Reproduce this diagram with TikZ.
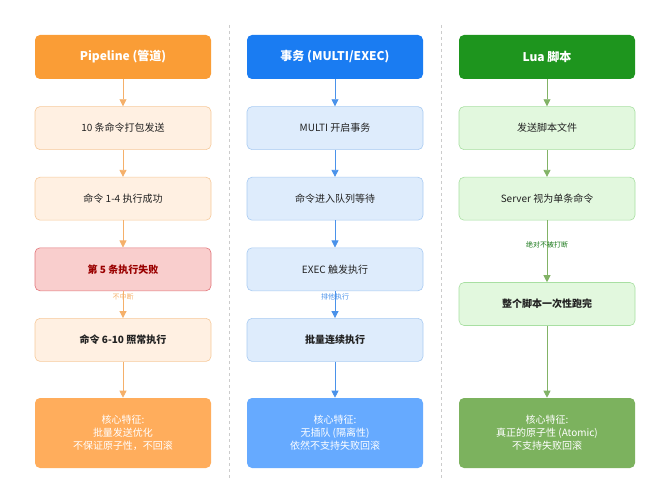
\documentclass[tikz,border=0pt]{standalone}
\usepackage{fontspec}
\setmainfont{Noto Sans CJK SC}
\usepackage{tikz}
\usetikzlibrary{arrows.meta, positioning, calc}

\definecolor{pipeH}{HTML}{FA9D36}
\definecolor{pipeL}{HTML}{FFF0E2}
\definecolor{pipeB}{HTML}{F6C99B}
\definecolor{pipeA}{HTML}{F5B06A}
\definecolor{pipeF}{HTML}{FFAD5C}
\definecolor{failL}{HTML}{F9CECD}
\definecolor{failB}{HTML}{E2747A}
\definecolor{failT}{HTML}{9A0000}
\definecolor{txH}{HTML}{1A7CF2}
\definecolor{txL}{HTML}{DEECFC}
\definecolor{txB}{HTML}{A9CBF2}
\definecolor{txA}{HTML}{4A92EA}
\definecolor{txF}{HTML}{66AAFF}
\definecolor{luaH}{HTML}{1E951E}
\definecolor{luaL}{HTML}{E2F8DE}
\definecolor{luaB}{HTML}{A8DFA2}
\definecolor{luaA}{HTML}{82B366}
\definecolor{luaF}{HTML}{7CB25E}
\definecolor{sepC}{HTML}{CCCCCC}
\definecolor{txtC}{HTML}{222222}

\begin{document}
\begin{tikzpicture}[x=1pt, y=-1pt, node distance=27pt, >={Triangle[length=7pt,width=7pt]},
    box/.style={rectangle, rounded corners=5pt, minimum width=176pt, minimum height=43pt,
        align=center, font=\fontsize{10}{13}\selectfont, text=txtC, line width=0.6pt},
    head/.style={box, minimum height=44pt, text=white, font=\fontsize{12}{15}\selectfont\bfseries, draw=none},
    final/.style={box, minimum height=70pt, text=white, draw=none},
    lbl/.style={font=\fontsize{7}{8}\selectfont}]
    \useasboundingbox (0,0) rectangle (670,500);

    % separators
    \draw[sepC, dashed, line width=0.8pt] (229,25) -- (229,480);
    \draw[sepC, dashed, line width=0.8pt] (441,25) -- (441,480);

    % Pipeline
    \node[head, fill=pipeH] (P0) at (123,57) {Pipeline (管道)};
    \node[box, fill=pipeL, draw=pipeB, below=of P0] (P1) {10 条命令打包发送};
    \node[box, fill=pipeL, draw=pipeB, below=of P1] (P2) {命令 1-4 执行成功};
    \node[box, fill=failL, draw=failB, text=failT, font=\fontsize{10}{13}\selectfont\bfseries, below=of P2] (P3) {第 5 条执行失败};
    \node[box, fill=pipeL, draw=pipeB, font=\fontsize{10}{13}\selectfont\bfseries, below=of P3] (P4) {命令 6-10 照常执行};
    \node[final, fill=pipeF] (P5) at (123,433) {核心特征:\\批量发送优化\\不保证原子性，不回滚};

    % Transaction
    \node[head, fill=txH] (T0) at (335,57) {事务 (MULTI/EXEC)};
    \node[box, fill=txL, draw=txB, below=of T0] (T1) {MULTI 开启事务};
    \node[box, fill=txL, draw=txB, below=of T1] (T2) {命令进入队列等待};
    \node[box, fill=txL, draw=txB, below=of T2] (T3) {EXEC 触发执行};
    \node[box, fill=txL, draw=txB, font=\fontsize{10}{13}\selectfont\bfseries, below=of T3] (T4) {批量连续执行};
    \node[final, fill=txF] (T5) at (335,433) {核心特征:\\无插队 (隔离性)\\依然不支持失败回滚};

    % Lua
    \node[head, fill=luaH] (L0) at (547,57) {Lua 脚本};
    \node[box, fill=luaL, draw=luaB, below=of L0] (L1) {发送脚本文件};
    \node[box, fill=luaL, draw=luaB, below=of L1] (L2) {Server 视为单条命令};
    \node[box, fill=luaL, draw=luaB, font=\fontsize{10}{13}\selectfont\bfseries] (L3) at (547,304) {整个脚本一次性跑完};
    \node[final, fill=luaF] (L5) at (547,433) {核心特征:\\真正的原子性 (Atomic)\\不支持失败回滚};

    \draw[->, pipeA, line width=0.8pt] (P0) -- (P1);
    \draw[->, pipeA, line width=0.8pt] (P1) -- (P2);
    \draw[->, pipeA, line width=0.8pt] (P2) -- (P3);
    \draw[->, pipeA, line width=0.8pt] (P3) -- node[lbl, pos=0.2] {不中断} (P4);
    \draw[->, pipeA, line width=0.8pt] (P4) -- (P5);

    \draw[->, txA, line width=0.8pt] (T0) -- (T1);
    \draw[->, txA, line width=0.8pt] (T1) -- (T2);
    \draw[->, txA, line width=0.8pt] (T2) -- (T3);
    \draw[->, txA, line width=0.8pt] (T3) -- node[lbl, pos=0.2] {排他执行} (T4);
    \draw[->, txA, line width=0.8pt] (T4) -- (T5);

    \draw[->, luaA, line width=0.8pt] (L0) -- (L1);
    \draw[->, luaA, line width=0.8pt] (L1) -- (L2);
    \draw[->, luaA, line width=0.8pt] (L2) -- node[lbl, text=luaH!80!black, pos=0.4] {绝对不被打断} (L3);
    \draw[->, luaA, line width=0.8pt] (L3) -- (L5);
\end{tikzpicture}
\end{document}
